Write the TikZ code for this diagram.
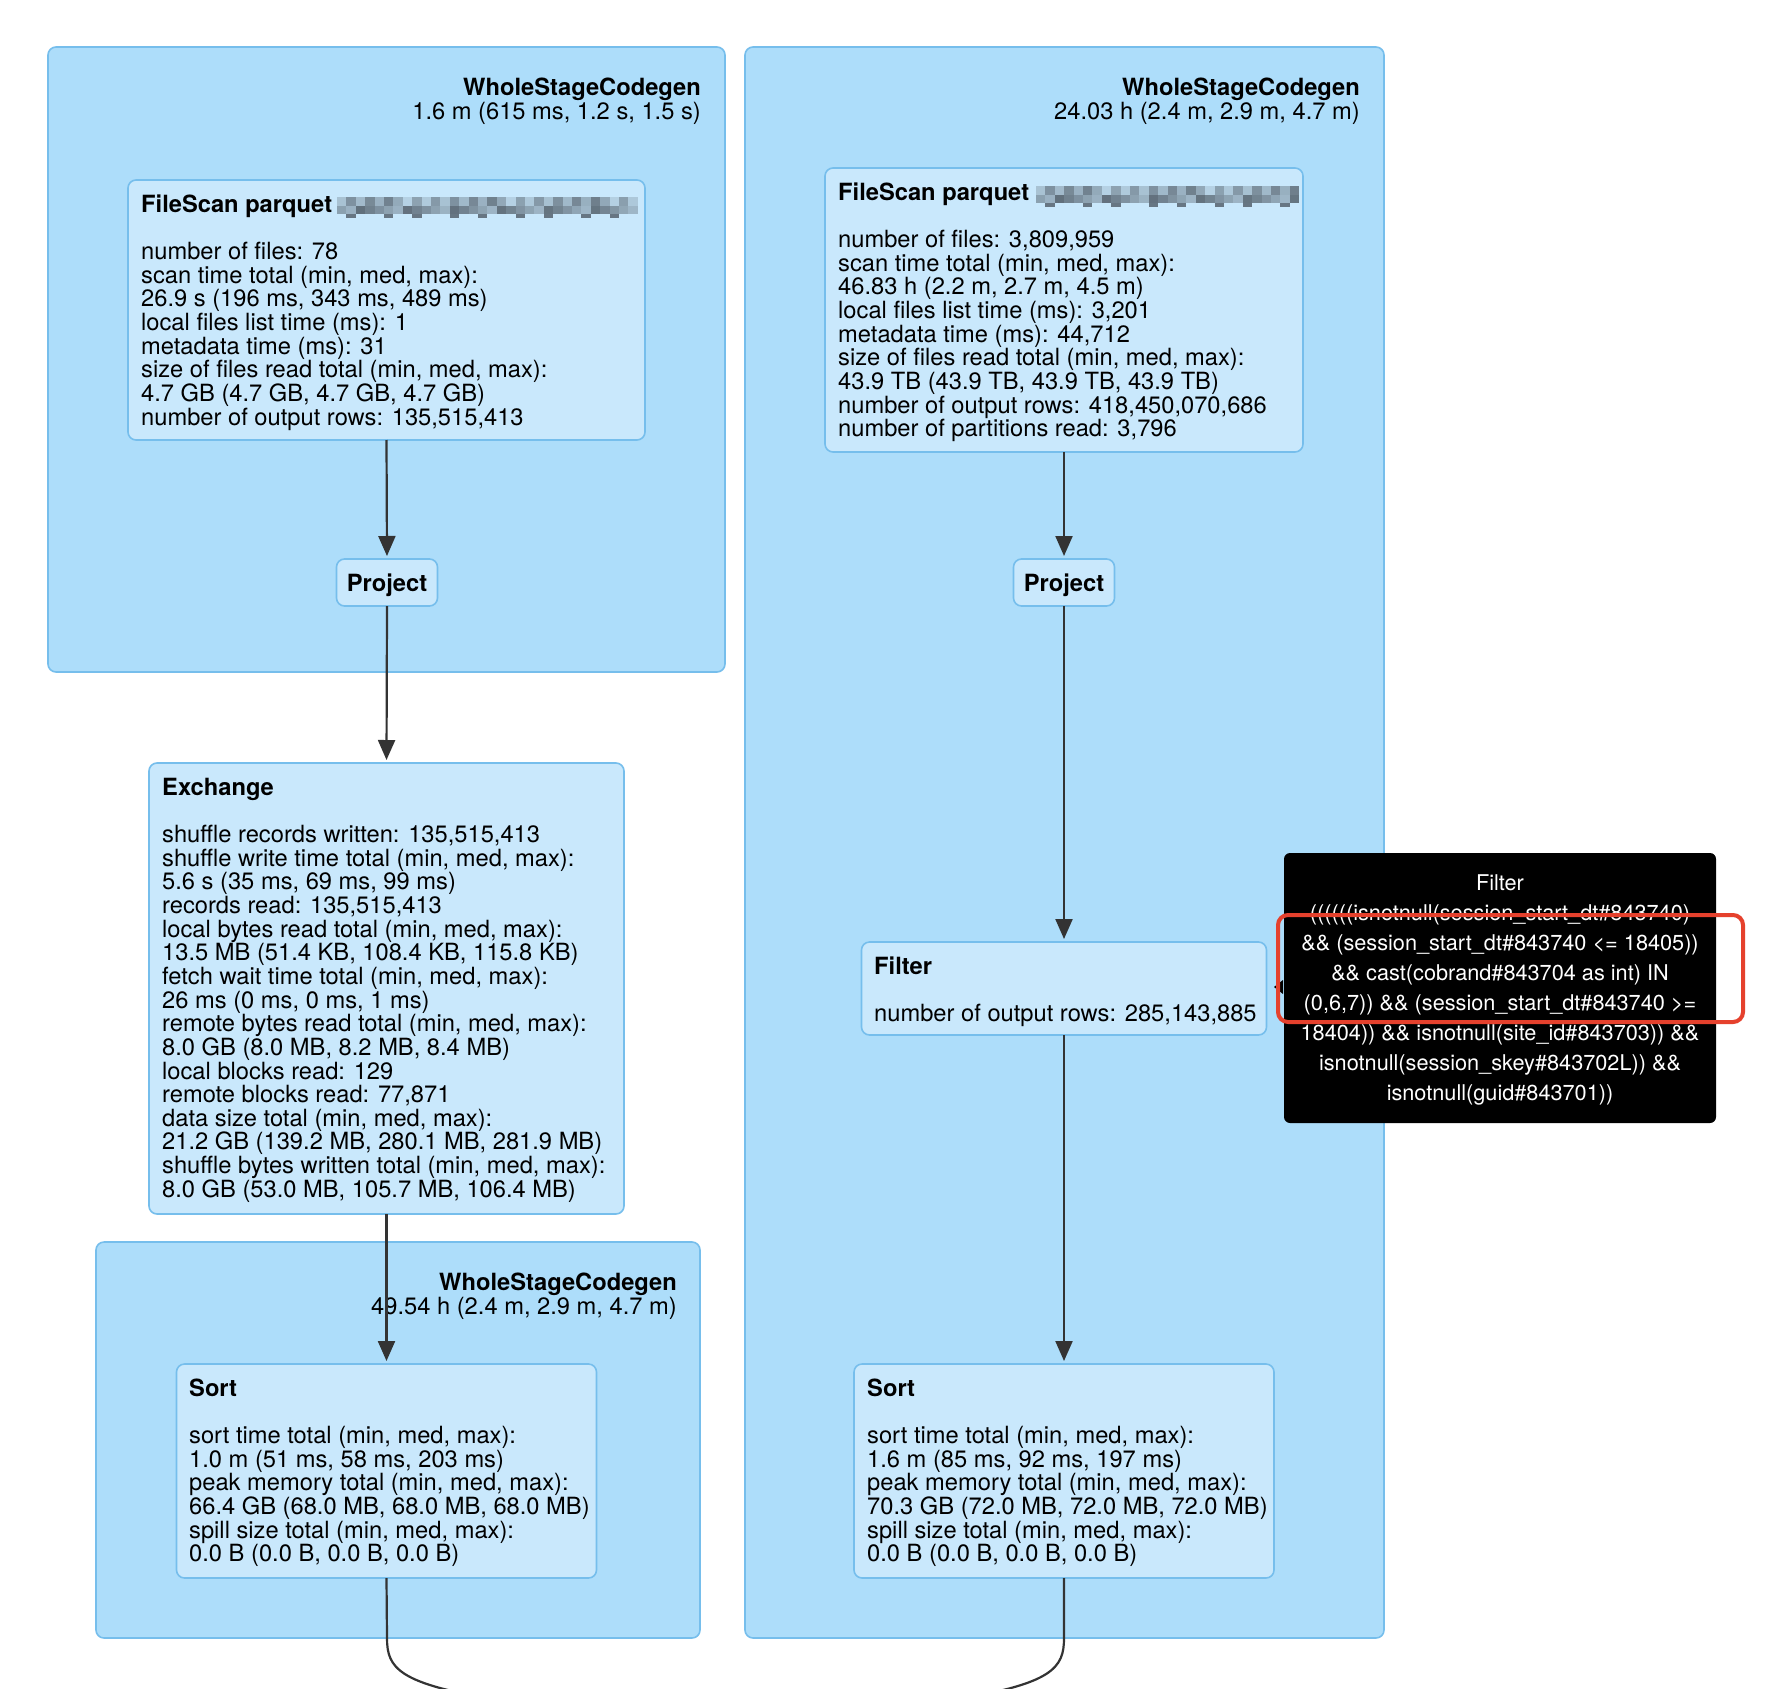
\documentclass[tikz,border=0pt]{standalone}
\usepackage{fontspec}
\setmainfont{TeX Gyre Heros}
\usetikzlibrary{arrows.meta}
\definecolor{outerfill}{RGB}{173,221,250}
\definecolor{nodefill}{RGB}{201,232,252}
\definecolor{bordercol}{RGB}{118,190,236}
\definecolor{arrowcol}{RGB}{51,51,51}
\definecolor{blurdark}{RGB}{70,80,90}
\definecolor{redbox}{RGB}{229,65,45}
\newcommand\fstrut{\rule{0pt}{20pt}}
\newcommand\tstrut{\rule{0pt}{18pt}}
\newcommand\blurbar[3]{%
  \foreach \i in {0,...,#3}{%
    \pgfmathtruncatemacro\sa{mod(\i*53+17,97)*0.6+15}%
    \pgfmathtruncatemacro\sb{mod(\i*71+29,89)*0.6+30}%
    \pgfmathtruncatemacro\sc{ifthenelse(mod(\i*37+5,7)<2,75,0)}%
    \fill[blurdark!\sa!nodefill] ({#1+\i*9.4},#2) rectangle ++(9.4,9);
    \fill[blurdark!\sb!nodefill] ({#1+\i*9.4},{#2+9}) rectangle ++(9.4,8);
    \fill[blurdark!\sc!nodefill] ({#1+\i*9.4},{#2+17}) rectangle ++(9.4,4);
  }}
\tikzset{
  stage/.style={draw=bordercol, fill=outerfill, line width=1.6pt, rounded corners=8pt, anchor=north west, inner sep=0pt, outer sep=0pt},
  opbox/.style={draw=bordercol, fill=nodefill, line width=1.6pt, rounded corners=8pt, anchor=north west, inner sep=0pt, outer sep=0pt},
  optext/.style={anchor=north west, inner sep=0pt, align=left, font=\fontsize{23.7pt}{23.65pt}\selectfont},
  stagelabel/.style={anchor=north east, inner sep=0pt, align=right, font=\fontsize{23.7pt}{24pt}\selectfont},
  projlabel/.style={font=\fontsize{23.7pt}{24pt}\selectfont\bfseries, text height=17.3pt, text depth=0pt},
  flow/.style={draw=arrowcol, line width=2.2pt, shorten >=3pt, -{Triangle[length=20pt,width=17pt]}},
  link/.style={draw=arrowcol, line width=2.2pt},
  tipbox/.style={fill=black, rounded corners=6pt, anchor=north west, inner sep=0pt, outer sep=0pt},
  tiptext/.style={anchor=north, inner sep=0pt, align=center, text=white, font=\fontsize{21.7pt}{30pt}\selectfont},
  hlbox/.style={draw=redbox, line width=4pt, rounded corners=10pt, anchor=north west, inner sep=0pt, outer sep=0pt}
}
\begin{document}
\begin{tikzpicture}[x=1pt,y=-1pt]
\useasboundingbox (0,0) rectangle (1784,1688);
\clip (0,0) rectangle (1784,1688);
\fill[white] (0,0) rectangle (1784,1688);

% stages
\node[stage, minimum width=677pt, minimum height=625pt] (stageL) at (48,47) {};
\node[stage, minimum width=639pt, minimum height=1591pt] (stageR) at (745,47) {};
\node[stage, minimum width=604pt, minimum height=396pt] (stageB) at (96,1242) {};

\node[stagelabel] (stageLlab) at (701,75) {\fstrut\textbf{WholeStageCodegen}\\1.6 m (615 ms, 1.2 s, 1.5 s)};
\node[stagelabel] (stageRlab) at (1360,75) {\fstrut\textbf{WholeStageCodegen}\\24.03 h (2.4 m, 2.9 m, 4.7 m)};
\node[stagelabel] (stageBlab) at (677,1270.5) {\fstrut\textbf{WholeStageCodegen}\\49.54 h (2.4 m, 2.9 m, 4.7 m)};

% operator boxes
\node[opbox, minimum width=517pt, minimum height=260pt] (fsL) at (128,180) {};
\node[opbox, minimum width=478pt, minimum height=284pt] (fsR) at (825,168) {};
\node[opbox, minimum width=101pt, minimum height=47pt] (projL) at (336.5,559) {};
\node[opbox, minimum width=101pt, minimum height=47pt] (projR) at (1013.5,559) {};
\node[opbox, minimum width=475pt, minimum height=451pt] (exch) at (149,763) {};
\node[opbox, minimum width=405pt, minimum height=93pt] (filt) at (861.5,942) {};
\node[opbox, minimum width=420pt, minimum height=214pt] (sortL) at (176.5,1364) {};
\node[opbox, minimum width=420pt, minimum height=214pt] (sortR) at (854,1364) {};

\node[projlabel] (projLlab) at (projL.center) {Project};
\node[projlabel] (projRlab) at (projR.center) {Project};

\node[optext] (fsLtxt) at (141,192) {\fstrut\textbf{FileScan parquet}\\[23.65pt]
number of files: 78\\
scan time total (min, med, max):\\
26.9 s (196 ms, 343 ms, 489 ms)\\
local files list time (ms): 1\\
metadata time (ms): 31\\
size of files read total (min, med, max):\\
4.7 GB (4.7 GB, 4.7 GB, 4.7 GB)\\
number of output rows: 135,515,413};
\blurbar{337}{197}{31}

\node[optext] (fsRtxt) at (838,180) {\fstrut\textbf{FileScan parquet}\\[23.65pt]
number of files: 3,809,959\\
scan time total (min, med, max):\\
46.83 h (2.2 m, 2.7 m, 4.5 m)\\
local files list time (ms): 3,201\\
metadata time (ms): 44,712\\
size of files read total (min, med, max):\\
43.9 TB (43.9 TB, 43.9 TB, 43.9 TB)\\
number of output rows: 418,450,070,686\\
number of partitions read: 3,796};
\blurbar{1036}{186}{27}

\node[optext] (exchtxt) at (162,775) {\fstrut\textbf{Exchange}\\[23.65pt]
shuffle records written: 135,515,413\\
shuffle write time total (min, med, max):\\
5.6 s (35 ms, 69 ms, 99 ms)\\
records read: 135,515,413\\
local bytes read total (min, med, max):\\
13.5 MB (51.4 KB, 108.4 KB, 115.8 KB)\\
fetch wait time total (min, med, max):\\
26 ms (0 ms, 0 ms, 1 ms)\\
remote bytes read total (min, med, max):\\
8.0 GB (8.0 MB, 8.2 MB, 8.4 MB)\\
local blocks read: 129\\
remote blocks read: 77,871\\
data size total (min, med, max):\\
21.2 GB (139.2 MB, 280.1 MB, 281.9 MB)\\
shuffle bytes written total (min, med, max):\\
8.0 GB (53.0 MB, 105.7 MB, 106.4 MB)};

\node[optext] (filttxt) at (874,954) {\fstrut\textbf{Filter}\\[23.65pt]
number of output rows: 285,143,885};

\node[optext] (sortLtxt) at (189,1376) {\fstrut\textbf{Sort}\\[23.65pt]
sort time total (min, med, max):\\
1.0 m (51 ms, 58 ms, 203 ms)\\
peak memory total (min, med, max):\\
66.4 GB (68.0 MB, 68.0 MB, 68.0 MB)\\
spill size total (min, med, max):\\
0.0 B (0.0 B, 0.0 B, 0.0 B)};

\node[optext] (sortRtxt) at (867,1376) {\fstrut\textbf{Sort}\\[23.65pt]
sort time total (min, med, max):\\
1.6 m (85 ms, 92 ms, 197 ms)\\
peak memory total (min, med, max):\\
70.3 GB (72.0 MB, 72.0 MB, 72.0 MB)\\
spill size total (min, med, max):\\
0.0 B (0.0 B, 0.0 B, 0.0 B)};

% connectors
\draw[flow] (fsL.south) -- (projL.north);
\draw[flow] (projL.south) -- (exch.north);
\draw[flow] (exch.south) -- (sortL.north);
\draw[flow] (fsR.south) -- (projR.north);
\draw[flow] (projR.south) -- (filt.north);
\draw[flow] (filt.south) -- (sortR.north);

\coordinate (endL) at (500,1700);
\coordinate (endR) at (951,1700);
\draw[link] (sortL.south) -- (387,1638) .. controls (387,1668) and (398,1684) .. (endL);
\draw[link] (sortR.south) -- (1064,1638) .. controls (1064,1668) and (1053,1684) .. (endR);

% tooltip
\node[tipbox, minimum width=432pt, minimum height=270pt] (tip) at (1284,853) {};
\fill[black] (1283,980) -- (1274,987) -- (1283,994) -- cycle;
\node[tiptext] (tiptxt) at (1500,872) {\tstrut Filter\\
((((((isnotnull(session\_start\_dt\#843740)\\
\&\& (session\_start\_dt\#843740 <= 18405))\\
\&\& cast(cobrand\#843704 as int) IN\\
(0,6,7)) \&\& (session\_start\_dt\#843740 >=\\
18404)) \&\& isnotnull(site\_id\#843703)) \&\&\\
isnotnull(session\_skey\#843702L)) \&\&\\
isnotnull(guid\#843701))};
\node[hlbox, minimum width=465pt, minimum height=107pt] (hl) at (1278,915) {};
\end{tikzpicture}
\end{document}
